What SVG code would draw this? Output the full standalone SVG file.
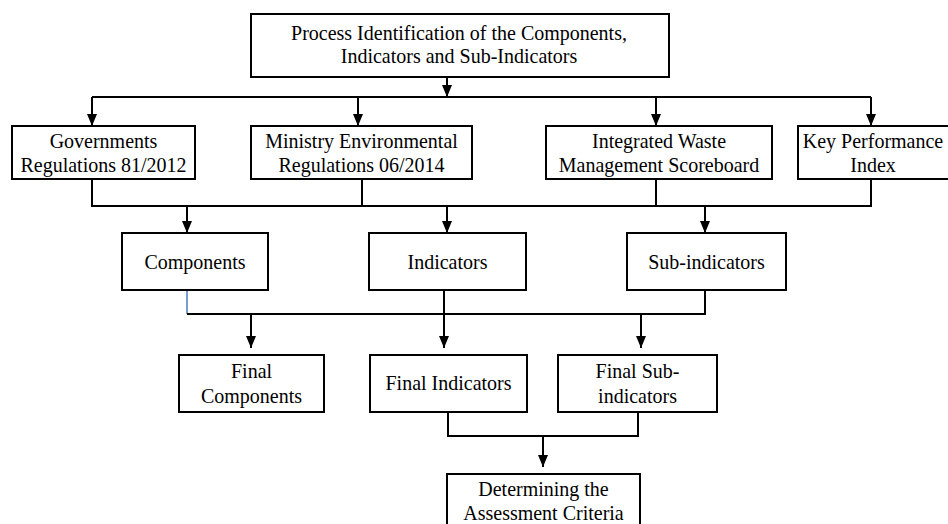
<svg xmlns="http://www.w3.org/2000/svg" width="948" height="524" viewBox="0 0 948 524">
<defs>
<style>
.box{fill:#fff;stroke:#000;stroke-width:2}
.ln{fill:none;stroke:#000;stroke-width:2}
.ar{fill:none;stroke:#000;stroke-width:2;marker-end:url(#ah)}
.blue{fill:none;stroke:#4a7ebb;stroke-width:1.5}
text{font-family:"Liberation Serif","Times New Roman",serif;font-size:20px;fill:#000;text-anchor:middle}
</style>
<marker id="ah" viewBox="0 0 12 10" refX="12" refY="5" markerWidth="12" markerHeight="10" markerUnits="userSpaceOnUse" orient="auto">
<path d="M0,0 L12,5 L0,10 z" fill="#000"/>
</marker>
</defs>
<rect width="948" height="524" fill="#fff"/>
<g id="connectors">
<line class="ar" x1="447" y1="77" x2="447" y2="97"/>
<line class="ln" x1="92" y1="97" x2="871" y2="97"/>
<line class="ar" x1="92" y1="97" x2="92" y2="126"/>
<line class="ar" x1="358" y1="97" x2="358" y2="126"/>
<line class="ar" x1="656" y1="97" x2="656" y2="126"/>
<line class="ar" x1="871" y1="97" x2="871" y2="126"/>
<line class="ln" x1="92" y1="179" x2="92" y2="206"/>
<line class="ln" x1="362" y1="179" x2="362" y2="206"/>
<line class="ln" x1="656" y1="179" x2="656" y2="206"/>
<line class="ln" x1="871" y1="179" x2="871" y2="206"/>
<line class="ln" x1="91" y1="206" x2="872" y2="206"/>
<line class="ar" x1="187" y1="206" x2="187" y2="233"/>
<line class="ar" x1="447" y1="206" x2="447" y2="233"/>
<line class="ar" x1="705" y1="206" x2="705" y2="233"/>
<line class="blue" x1="187" y1="290" x2="187" y2="314"/>
<line class="ln" x1="705" y1="290" x2="705" y2="314"/>
<line class="ln" x1="187" y1="314" x2="706" y2="314"/>
<line class="ar" x1="444" y1="290" x2="444" y2="348"/>
<line class="ar" x1="251" y1="314" x2="251" y2="348"/>
<line class="ar" x1="641" y1="314" x2="641" y2="348"/>
<line class="ln" x1="448" y1="412" x2="448" y2="436"/>
<line class="ln" x1="638" y1="412" x2="638" y2="436"/>
<line class="ln" x1="447" y1="436" x2="639" y2="436"/>
<line class="ar" x1="543" y1="436" x2="543" y2="467"/>
</g>
<g id="process">
<rect class="box" x="251" y="14" width="418" height="63"/>
<text transform="translate(459 40) scale(1 1.1)">Process Identification of the Components,</text>
<text transform="translate(459 63) scale(1 1.1)">Indicators and Sub-Indicators</text>
</g>
<g id="gov">
<rect class="box" x="12" y="126" width="183" height="53"/>
<text transform="translate(103.5 148) scale(1 1.1)">Governments</text>
<text transform="translate(103.5 172) scale(1 1.1)">Regulations  81/2012</text>
</g>
<g id="ministry">
<rect class="box" x="251" y="126" width="221" height="53"/>
<text transform="translate(361.5 148) scale(1 1.1)">Ministry Environmental</text>
<text transform="translate(361.5 172) scale(1 1.1)">Regulations 06/2014</text>
</g>
<g id="iwm">
<rect class="box" x="546" y="126" width="226" height="53"/>
<text transform="translate(659 148) scale(1 1.1)">Integrated Waste</text>
<text transform="translate(659 172) scale(1 1.1)">Management Scoreboard</text>
</g>
<g id="kpi">
<rect class="box" x="798" y="126" width="160" height="53"/>
<text transform="translate(873 148) scale(1 1.1)">Key Performance</text>
<text transform="translate(873 172) scale(1 1.1)">Index</text>
</g>
<g id="components">
<rect class="box" x="122" y="233" width="146" height="57"/>
<text transform="translate(195 269) scale(1 1.1)">Components</text>
</g>
<g id="indicators">
<rect class="box" x="369" y="233" width="157" height="57"/>
<text transform="translate(447.5 269) scale(1 1.1)">Indicators</text>
</g>
<g id="subindicators">
<rect class="box" x="627" y="233" width="159" height="57"/>
<text transform="translate(706.5 269) scale(1 1.1)">Sub-indicators</text>
</g>
<g id="finalcomponents">
<rect class="box" x="179" y="355" width="145" height="57"/>
<text transform="translate(251.5 378) scale(1 1.1)">Final</text>
<text transform="translate(251.5 403) scale(1 1.1)">Components</text>
</g>
<g id="finalindicators">
<rect class="box" x="370" y="355" width="157" height="57"/>
<text transform="translate(448.5 390) scale(1 1.1)">Final Indicators</text>
</g>
<g id="finalsub">
<rect class="box" x="558" y="355" width="159" height="57"/>
<text transform="translate(637.5 378) scale(1 1.1)">Final Sub-</text>
<text transform="translate(637.5 403) scale(1 1.1)">indicators</text>
</g>
<g id="determining">
<rect class="box" x="447" y="474" width="193" height="60"/>
<text transform="translate(543.5 496) scale(1 1.1)">Determining the</text>
<text transform="translate(543.5 520) scale(1 1.1)">Assessment  Criteria</text>
</g>
</svg>
